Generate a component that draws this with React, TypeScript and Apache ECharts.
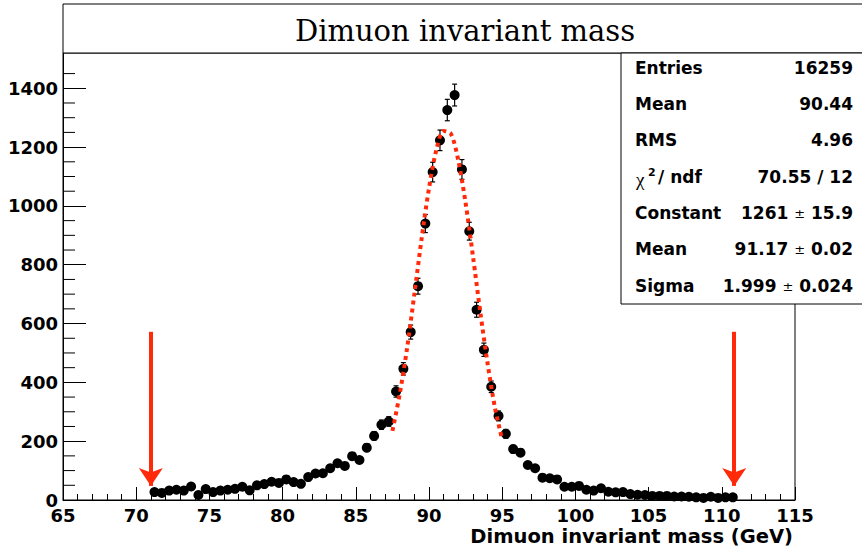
import React, { useEffect, useRef } from "react";
import * as echarts from "echarts";

// ---- data ----
const BIN_LOW = 71;
const BIN_WIDTH = 0.5;
const COUNTS = [
  27, 24, 32, 35, 32, 46, 17, 37, 27, 32,
  35, 38, 45, 33, 50, 54, 62, 58, 70, 61,
  55, 78, 90, 91, 108, 125, 116, 149, 136, 178,
  218, 256, 267, 369, 446, 571, 727, 940, 1115, 1223,
  1326, 1377, 1124, 914, 647, 511, 385, 286, 225, 173,
  161, 119, 108, 76, 74, 70, 45, 45, 48, 35,
  32, 40, 28, 26, 27, 20, 18, 17, 14, 14,
  14, 12, 12, 11, 9, 7, 11, 7, 9, 9,
];
const FIT_MASS = [87.5, 88, 88.5, 89, 89.5, 90, 90.5, 91, 91.5, 92, 92.5, 93, 93.5, 94, 94.5, 95];
const FIT_VALUES = [235, 360, 515, 700, 890, 1060, 1190, 1255, 1245, 1155, 1010, 830, 640, 465, 315, 205];
const ARROW_MASS = [71, 110.85];
const ARROW_TOP = 572;
const ARROW_TIP = 48;
const X_MIN = 65;
const X_MAX = 115;
const X_STEP = 5;
const Y_MAX = 1520;
const Y_MAJOR = [0, 200, 400, 600, 800, 1000, 1200, 1400];
const Y_MINOR = [50, 100, 150, 250, 300, 350, 450, 500, 550, 650, 700, 750, 850, 900, 950, 1050, 1100, 1150, 1250, 1300, 1350, 1450];
const TITLE = "Dimuon invariant mass";
const X_TITLE = "Dimuon invariant mass (GeV)";
const STAT_LABELS = ["Entries", "Mean", "RMS", "", "Constant", "Mean", "Sigma"];
const STAT_VALUES = ["16259", "90.44", "4.96", "70.55 / 12", "1261 {pm|±} 15.9", "91.17 {pm|±} 0.02", "1.999 {pm|±} 0.024"];

const RED = "#ff2a0a";
const SANS = "DejaVu Sans";

export default function App() {
  const ref = useRef<HTMLDivElement>(null);
  useEffect(() => {
    if (!ref.current) return;
    const chart = echarts.init(ref.current, undefined, { renderer: "svg" });
    const points = COUNTS.map((c, i) => [BIN_LOW + BIN_WIDTH * (i + 0.5), c, Math.sqrt(c)]);
    const fit = FIT_MASS.map((m, i) => [m, FIT_VALUES[i]]);

    const rowY = [68, 104, 140, 177, 213, 249, 286];
    const statTexts: any[] = [];
    STAT_LABELS.forEach((l, i) => {
      if (l) {
        statTexts.push({
          type: "text", x: 635, y: rowY[i], z: 110,
          style: { text: l, font: `bold 17px '${SANS}'`, fill: "#000", textAlign: "left", textVerticalAlign: "middle" },
        });
      }
      statTexts.push({
        type: "text", x: 853, y: rowY[i], z: 110,
        style: {
          text: STAT_VALUES[i], font: `bold 17px '${SANS}'`, fill: "#000", textAlign: "right", textVerticalAlign: "middle",
          rich: { pm: { fontFamily: SANS, fontSize: 13, fontWeight: "normal", fill: "#000" } },
        },
      });
    });
    // chi^2 / ndf label
    statTexts.push(
      { type: "text", x: 636, y: rowY[3] + 2, z: 110, style: { text: "χ", font: "19px 'Liberation Serif'", fill: "#000", textAlign: "left", textVerticalAlign: "middle" } },
      { type: "text", x: 648, y: rowY[3] - 5, z: 110, style: { text: "2", font: `bold 11px '${SANS}'`, fill: "#000", textAlign: "left", textVerticalAlign: "middle" } },
      { type: "text", x: 658, y: rowY[3], z: 110, style: { text: "/ ndf", font: `bold 17px '${SANS}'`, fill: "#000", textAlign: "left", textVerticalAlign: "middle" } },
    );

    const plain = (v: number) => String(v);
    const option: any = {
      animation: false,
      backgroundColor: "#fff",
      grid: { left: 63, right: 67, top: 53, bottom: 51, show: true, borderColor: "#000", borderWidth: 1, backgroundColor: "transparent" },
      xAxis: {
        type: "value", min: X_MIN, max: X_MAX, interval: X_STEP,
        axisLine: { show: true, onZero: false, lineStyle: { color: "#000", width: 1 } },
        axisTick: { show: true, inside: true, length: 13, lineStyle: { color: "#000", width: 1 } },
        minorTick: { show: true, splitNumber: 5, length: 6, lineStyle: { color: "#000", width: 1 } },
        splitLine: { show: false },
        axisLabel: { formatter: plain, color: "#000", fontFamily: SANS, fontWeight: "bold", fontSize: 18, margin: 6 },
      },
      yAxis: {
        type: "value", min: 0, max: Y_MAX, position: "left",
        axisLine: { show: true, lineStyle: { color: "#000", width: 1 } },
        axisTick: { show: true, inside: true, length: 23, customValues: Y_MAJOR, lineStyle: { color: "#000", width: 1 } },
        splitLine: { show: false },
        axisLabel: { customValues: Y_MAJOR, formatter: plain, color: "#000", fontFamily: SANS, fontWeight: "bold", fontSize: 18, margin: 5 },
      },
      series: [
        {
          // minor y ticks, positioned through the y scale
          type: "custom",
          z: 1,
          silent: true,
          clip: false,
          renderItem: (params: any, api: any) => {
            const p = api.coord([X_MIN, api.value(0)]);
            return { type: "line", shape: { x1: p[0], y1: p[1], x2: p[0] + 12, y2: p[1] }, style: { stroke: "#000", lineWidth: 1 } };
          },
          encode: { x: -1, y: 0 },
          data: Y_MINOR.map((v) => [v]),
        },
        {
          type: "custom",
          z: 2,
          silent: true,
          renderItem: (params: any, api: any) => {
            const x = api.value(0), y = api.value(1), e = api.value(2);
            const t = api.coord([x, y + e]);
            const b = api.coord([x, y - e]);
            const st = { stroke: "#000", lineWidth: 1.2 };
            return {
              type: "group",
              children: [
                { type: "line", shape: { x1: t[0], y1: t[1], x2: b[0], y2: b[1] }, style: st },
                { type: "line", shape: { x1: t[0] - 2.5, y1: t[1], x2: t[0] + 2.5, y2: t[1] }, style: st },
                { type: "line", shape: { x1: b[0] - 2.5, y1: b[1], x2: b[0] + 2.5, y2: b[1] }, style: st },
              ],
            };
          },
          data: points,
        },
        {
          type: "scatter",
          z: 3,
          symbol: "circle",
          symbolSize: 10,
          itemStyle: { color: "#000", opacity: 1 },
          data: points.map((p) => [p[0], p[1]]),
          markLine: {
            silent: true,
            symbol: ["none", "arrow"],
            symbolSize: [18, 18],
            label: { show: false },
            lineStyle: { color: RED, width: 4, type: "solid" },
            data: ARROW_MASS.map((m) => [{ coord: [m, ARROW_TOP] }, { coord: [m, ARROW_TIP] }]),
          },
        },
        {
          type: "line",
          z: 4,
          data: fit,
          smooth: 0.3,
          showSymbol: false,
          silent: true,
          lineStyle: { color: RED, width: 4, type: [4, 4], cap: "butt" },
        },
      ],
      graphic: [
        { type: "rect", z: 100, shape: { x: 63, y: 4, width: 830, height: 49 }, style: { fill: "#fff", stroke: "#000", lineWidth: 1 } },
        { type: "text", z: 101, x: 465, y: 31, style: { text: TITLE, font: "29px 'DejaVu Serif'", fill: "#000", textAlign: "center", textVerticalAlign: "middle" } },
        { type: "rect", z: 100, shape: { x: 621, y: 53, width: 260, height: 251 }, style: { fill: "#fff", stroke: "#000", lineWidth: 1 } },
        ...statTexts,
        { type: "text", z: 101, x: 793, y: 536, style: { text: X_TITLE, font: `bold 19.5px '${SANS}'`, fill: "#000", textAlign: "right", textVerticalAlign: "middle" } },
      ],
    };
    chart.setOption(option);
    return () => chart.dispose();
  }, []);
  return <div ref={ref} style={{ position: "fixed", left: 0, top: 0, width: 862, height: 551 }} />;
}
